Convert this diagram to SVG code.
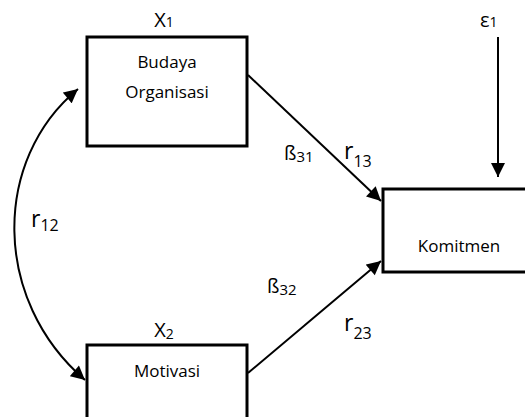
<svg xmlns="http://www.w3.org/2000/svg" width="525" height="417" viewBox="0 0 525 417">
<style>
text{font-family:"Open Sans","Liberation Sans",sans-serif;fill:#000;font-size:17px}
.box{fill:#fff;stroke:#000;stroke-width:3}
.c{text-anchor:middle}
.ln{fill:none;stroke:#000;stroke-width:2}
.big{font-size:20px}
.r{font-size:23px}
.rs{font-size:16px}
.s12{font-size:14px}
.beta{font-size:20px}
.bs{font-size:15px}
</style>
<defs>
<marker id="ah" viewBox="0 0 10 10" refX="10" refY="5" markerWidth="7.5" markerHeight="7" markerUnits="strokeWidth" orient="auto-start-reverse">
<path d="M0,0 L10,5 L0,10 Z" fill="#000"/>
</marker>
</defs>
<g id="connectors">
<path class="ln" d="M248,75 L381,201" marker-end="url(#ah)"/>
<path class="ln" d="M248,373 L381,261" marker-end="url(#ah)"/>
<path class="ln" d="M498,37 L498,177" marker-end="url(#ah)"/>
<path class="ln" d="M78,89 C-8,160 -8,300 85,380" marker-start="url(#ah)" marker-end="url(#ah)"/>
</g>
<g id="x1">
<rect class="box" x="87" y="37" width="160" height="109"/>
<text class="c big" x="164" y="27">X<tspan class="s12">1</tspan></text>
<text class="c" x="167" y="68">Budaya</text>
<text class="c" x="167" y="98">Organisasi</text>
</g>
<g id="x2">
<rect class="box" x="87" y="345" width="160" height="80"/>
<text class="c big" x="164" y="337">X<tspan class="s12" dy="2">2</tspan></text>
<text class="c" x="167" y="377">Motivasi</text>
</g>
<g id="y">
<rect class="box" x="383" y="189" width="150" height="83"/>
<text class="c" x="459" y="252">Komitmen</text>
</g>
<g id="e1">
<text class="big" x="480" y="27">ε<tspan class="s12">1</tspan></text>
</g>
<g id="labels">
<text class="r" x="31" y="227">r<tspan class="rs" dy="4">12</tspan></text>
<text class="beta" x="284" y="160">ß<tspan class="bs" dy="2">31</tspan></text>
<text class="r" x="344" y="159">r<tspan class="rs" dy="8">13</tspan></text>
<text class="beta" x="267" y="293">ß<tspan class="bs" dy="2">32</tspan></text>
<text class="r" x="344" y="331">r<tspan class="rs" dy="8">23</tspan></text>
</g>
</svg>
